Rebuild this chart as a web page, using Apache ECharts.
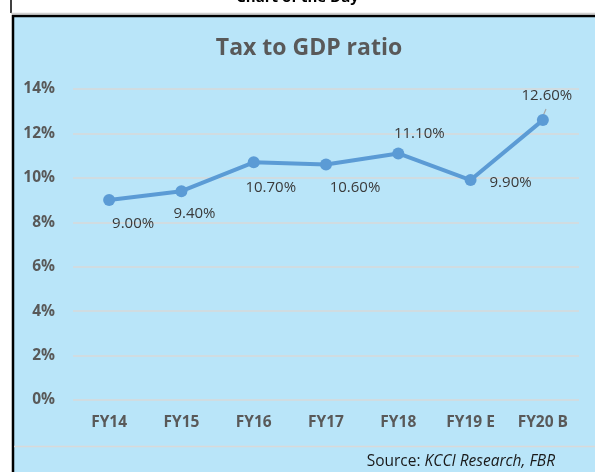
<!DOCTYPE html>
<html>
<head>
<meta charset="utf-8">
<title>Tax to GDP ratio</title>
<script src="https://cdn.jsdelivr.net/npm/echarts@6/dist/echarts.min.js"></script>
<style>
  html, body { margin: 0; padding: 0; background: #fff; }
  #chart { width: 595px; height: 472px; }
</style>
</head>
<body>
<div id="chart"></div>
<script>
// data
var years = ['FY14', 'FY15', 'FY16', 'FY17', 'FY18', 'FY19 E', 'FY20 B'];
var taxToGdp = [9.0, 9.4, 10.7, 10.6, 11.1, 9.9, 12.6];
// where each data label sits relative to its point (as in the original)
var labelOffsets = [[24, 24], [13, 23], [17, 25], [29, 23], [21, -20], [40, 3], [4, -24]];

var points = taxToGdp.map(function (v, i) {
  return {
    value: v,
    label: { offset: labelOffsets[i] }
  };
});

var myChart = echarts.init(document.getElementById('chart'));
var option = {
  backgroundColor: '#ffffff',
  animation: false,
  textStyle: { fontFamily: 'Open Sans' },
  graphic: [
    // blue panel
    { type: 'rect', z: -10, shape: { x: 14, y: 17, width: 581, height: 455 }, style: { fill: '#b9e5f9' } },
    // frame lines
    { type: 'line', shape: { x1: 11, y1: 0, x2: 11, y2: 13 }, style: { stroke: '#000', lineWidth: 1.5 } },
    { type: 'line', shape: { x1: 11, y1: 13.5, x2: 595, y2: 13.5 }, style: { stroke: '#d0d0d0', lineWidth: 1.5 } },
    { type: 'line', shape: { x1: 12, y1: 16, x2: 595, y2: 16 }, style: { stroke: '#000', lineWidth: 2.5 } },
    { type: 'line', shape: { x1: 13, y1: 15, x2: 13, y2: 472 }, style: { stroke: '#000', lineWidth: 2.5 } },
    { type: 'line', shape: { x1: 14, y1: 446.5, x2: 595, y2: 446.5 }, style: { stroke: '#d9d9d9', lineWidth: 1.5 } },
    // cut-off heading above the frame
    { type: 'text', left: 'center', top: -10, style: { text: 'Chart of the Day', font: 'bold 15px "Open Sans"', fill: '#000' } },
    // source
    {
      type: 'text', right: 40, top: 454,
      style: {
        text: '{n|Source: }{i|KCCI Research, FBR}',
        rich: {
          n: { fontFamily: 'Open Sans', fontSize: 15.5, fill: '#1a1a1a' },
          i: { fontFamily: 'Open Sans', fontSize: 15.5, fontStyle: 'italic', fill: '#1a1a1a' }
        }
      }
    },
    // leader line for the last label
    { type: 'line', shape: { x1: 543, y1: 116, x2: 546, y2: 109 }, style: { stroke: '#a6a6a6', lineWidth: 1.2 } }
  ],
  title: {
    text: 'Tax to GDP ratio',
    left: 304,
    top: 32,
    textAlign: 'center',
    textStyle: { fontSize: 23, fontWeight: 'bold', color: '#595959', fontFamily: 'Open Sans' }
  },
  grid: { left: 73, right: 16, top: 89, bottom: 72 },
  xAxis: {
    type: 'category',
    data: years,
    axisLine: { show: false },
    axisTick: { show: false },
    axisLabel: { color: '#595959', fontWeight: 'bold', fontSize: 15.5, margin: 15 }
  },
  yAxis: {
    type: 'value',
    min: 0,
    max: 14,
    interval: 2,
    axisLine: { show: false },
    axisTick: { show: false },
    splitLine: { lineStyle: { color: '#d9d9d9', width: 1.5 } },
    axisLabel: { formatter: '{value}%', color: '#595959', fontWeight: 'bold', fontSize: 15.5, margin: 18 }
  },
  series: [{
    type: 'line',
    data: points,
    symbol: 'circle',
    symbolSize: 12,
    lineStyle: { color: '#5b9bd5', width: 4 },
    itemStyle: { color: '#5b9bd5' },
    label: {
      show: true,
      position: 'inside',
      color: '#3a3a3a',
      fontSize: 15,
      formatter: function (p) { return p.value.toFixed(2) + '%'; }
    }
  }]
};
myChart.setOption(option);
</script>
</body>
</html>
